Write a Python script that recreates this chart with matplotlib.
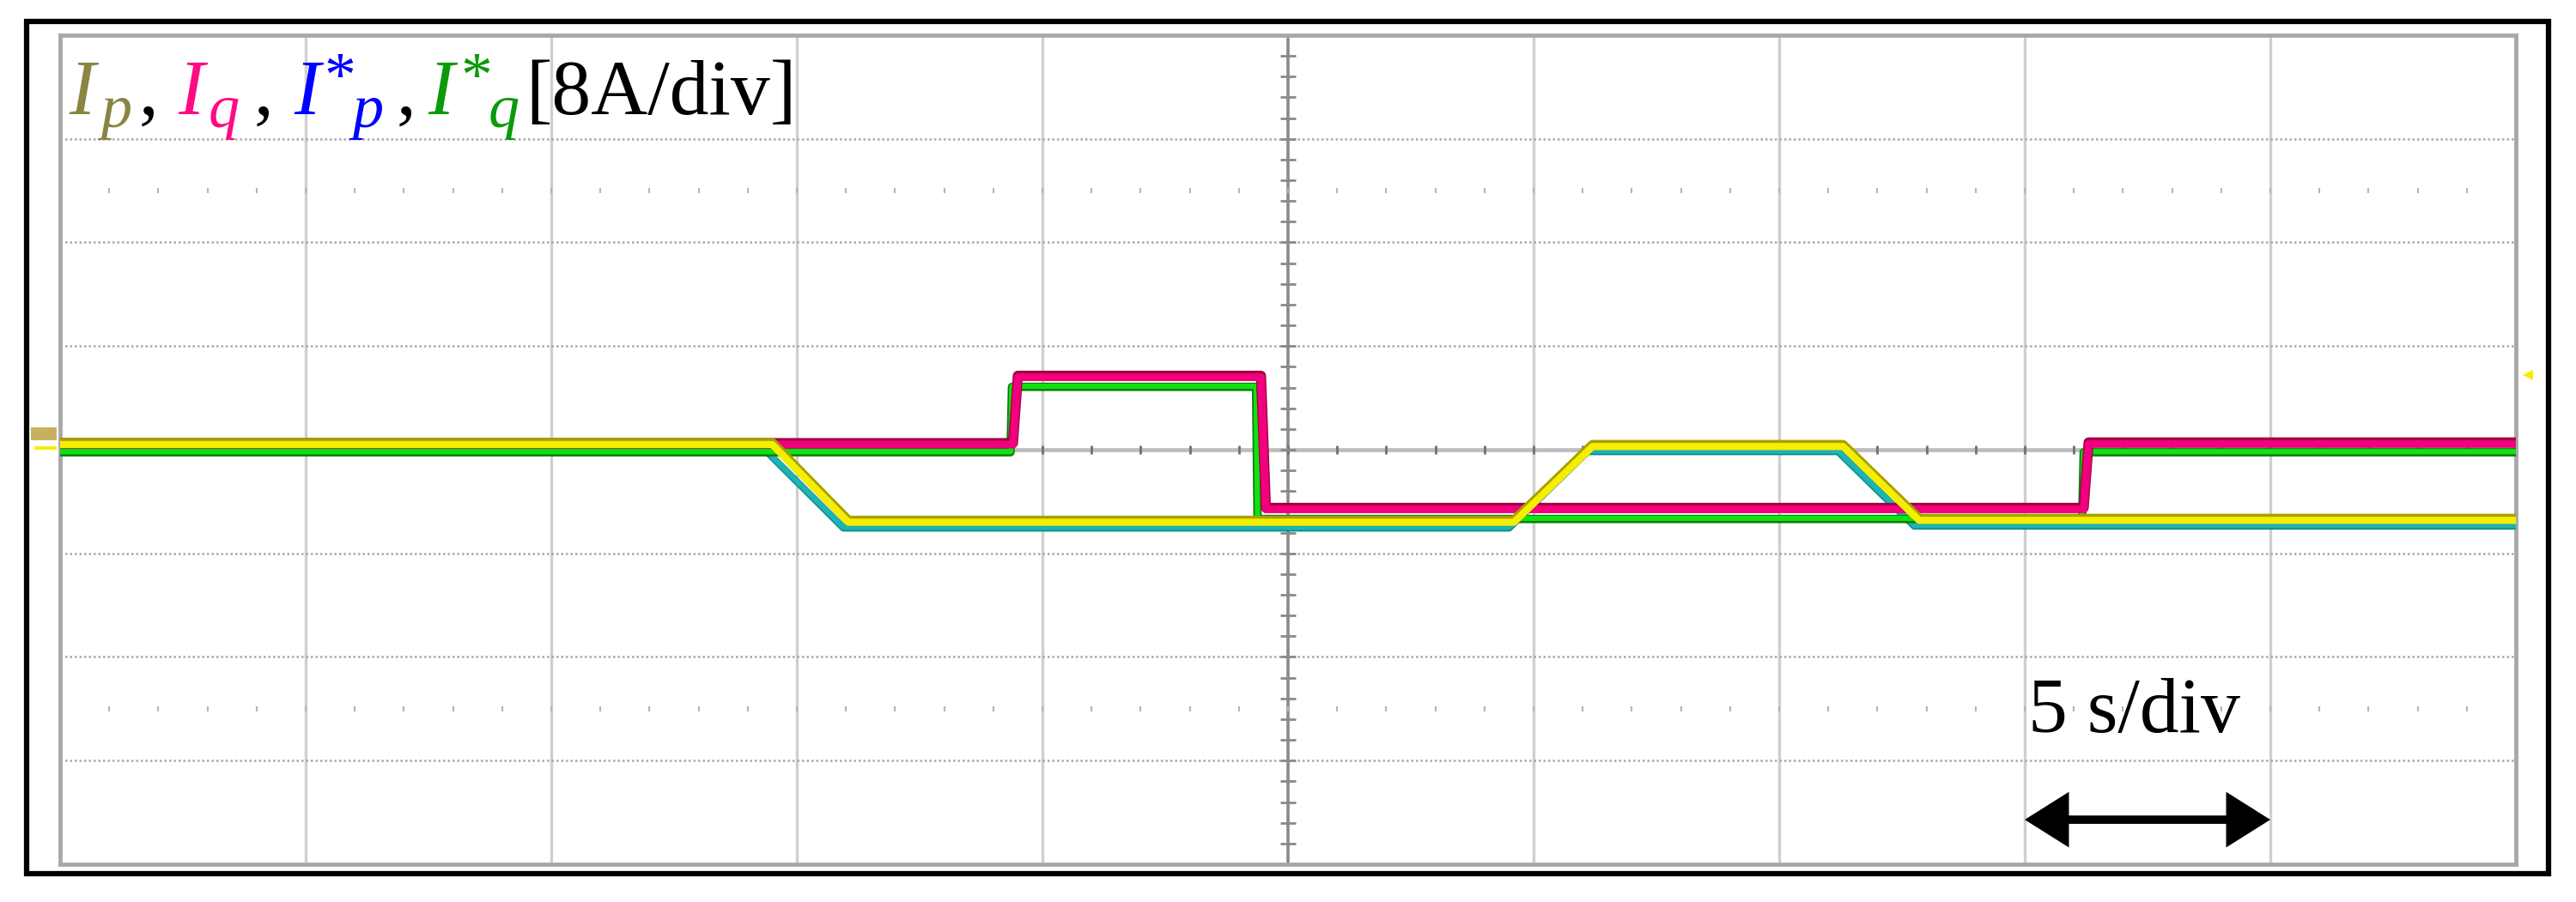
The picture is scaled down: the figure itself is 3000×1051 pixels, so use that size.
import numpy as np
import matplotlib
matplotlib.use('Agg')
import matplotlib.pyplot as plt
import matplotlib.patheffects as pe
from matplotlib.patches import Rectangle, Polygon

W, H, DPI = 3000, 1051, 100

# ---- data: time (s) at 5 s/div, current (A) at 8 A/div ----
t_ip = [0, 14.5, 16.05, 29.6, 31.2, 36.3, 37.85, 50]
ip = [0.4, 0.4, -5.6, -5.6, 0.25, 0.25, -5.45, -5.45]
t_ip_ref = [0, 14.4, 15.95, 29.5, 31.1, 36.2, 37.75, 50]
ip_ref = [-0.15, -0.15, -6.0, -6.0, -0.1, -0.1, -5.85, -5.85]
t_iq = [0, 19.4, 19.5, 24.45, 24.55, 41.2, 41.3, 50]
iq = [0.4, 0.4, 5.6, 5.6, -4.6, -4.6, 0.45, 0.45]
t_iq_ref = [0, 19.35, 19.38, 24.35, 24.38, 41.17, 41.2, 50]
iq_ref = [-0.15, -0.15, 4.9, 4.9, -5.3, -5.3, -0.15, -0.15]

x_div, y_div = 5, 8          # s/div, A/div
n_xdiv, n_ydiv = 10, 8
scale_label = "5 s/div"
arrow_span = [40, 45]

plt.rcParams['font.family'] = ['Liberation Serif', 'DejaVu Serif']

fig = plt.figure(figsize=(W / DPI, H / DPI), dpi=DPI, facecolor='white')
gx0, gx1, gy0, gy1 = 70, 2930, 41, 1007
ax = fig.add_axes([gx0 / W, 1 - gy1 / H, (gx1 - gx0) / W, (gy1 - gy0) / H])
xmax = x_div * n_xdiv
ymax = y_div * n_ydiv / 2
ax.set_xlim(0, xmax)
ax.set_ylim(-ymax, ymax)
ax.set_xticks([]); ax.set_yticks([])
for s in ax.spines.values():
    s.set_color('#a8a8a8'); s.set_linewidth(3.5)

# grid
for k in range(1, n_xdiv):
    xv = k * x_div
    if k == n_xdiv // 2:
        ax.axvline(xv, color='#8a8a8a', lw=2.6, zorder=1)
    else:
        ax.axvline(xv, color='#cfcfcf', lw=2.4, zorder=1)
for k in range(1, n_ydiv):
    yv = -ymax + k * y_div
    if k == n_ydiv // 2:
        ax.axhline(yv, color='#bdbdbd', lw=3.4, zorder=1)
    else:
        ax.axhline(yv, color='#a8a8a8', lw=1.8, ls=(0, (1, 1.2)), zorder=1)

# center-line minor ticks
mx = np.arange(0, xmax + 0.01, x_div / 5)
ax.vlines(mx, -0.3, 0.3, color='#707070', lw=2.0, zorder=1)
my = np.arange(-ymax, ymax + 0.01, y_div / 5)
ax.hlines(my, xmax / 2 - 0.15, xmax / 2 + 0.15, color='#8a8a8a', lw=2.0, zorder=1)
# marker rows at +-2.5 div
for yr in (2.5 * y_div, -2.5 * y_div):
    ax.vlines(mx, yr - 0.2, yr + 0.2, color='#b5b5b5', lw=1.5, zorder=1)

# traces
def trace(t, v, core, edge, lw, elw, off, z):
    ax.plot(t, v, color=core, lw=lw, solid_joinstyle='round', zorder=z,
            path_effects=[pe.Stroke(linewidth=elw, foreground=edge, offset=(0, off)),
                          pe.Normal()])

trace(t_ip_ref, ip_ref, '#1fb3b3', '#0a8c8c', 4.5, 6, -0.5, 3)
trace(t_iq_ref, iq_ref, '#12e012', '#0a7a0a', 4.5, 7, -0.5, 4)
trace(t_iq, iq, '#f0007e', '#a3003f', 6.5, 8.5, 1.2, 5)
trace(t_ip, ip, '#f6ee00', '#a8a000', 6.0, 8.0, 1.5, 6)

# time-scale arrow and label
ya = -3.57 * y_div
ann = ax.annotate('', xy=(arrow_span[1], ya), xytext=(arrow_span[0], ya),
                  arrowprops=dict(arrowstyle='<|-|>,head_length=1.35,head_width=0.85',
                                  mutation_scale=20, lw=7, color='black',
                                  shrinkA=0, shrinkB=0), zorder=7)
ann.arrow_patch.set_joinstyle('miter')
ann.arrow_patch.set_capstyle('butt')
fig.text(2362 / W, 1 - 853 / H, scale_label, fontsize=66, color='black',
         ha='left', va='baseline', family='Liberation Serif')

# legend-like title: (x px, baseline px, text, color, size, style)
pieces = [
    (80, 133, 'I', '#8b8442', 66, 'italic'),
    (117, 148, 'p', '#8b8442', 52, 'italic'),
    (162, 133, ',', 'black', 66, 'normal'),
    (207, 133, 'I', '#ff0a84', 66, 'italic'),
    (243, 148, 'q', '#ff0a84', 52, 'italic'),
    (296, 133, ',', 'black', 66, 'normal'),
    (342, 133, 'I', '#0000ff', 66, 'italic'),
    (377, 112, '*', '#0000ff', 53, 'normal'),
    (410, 148, 'p', '#0000ff', 52, 'italic'),
    (462, 133, ',', 'black', 66, 'normal'),
    (498, 133, 'I', '#0a9a0a', 66, 'italic'),
    (536, 112, '*', '#0a9a0a', 53, 'normal'),
    (569, 148, 'q', '#0a9a0a', 52, 'italic'),
    (612, 133, '[8A/div]', 'black', 66, 'normal'),
]
for px, py, s, c, size, style in pieces:
    fig.text(px / W, 1 - py / H, s, fontsize=size, color=c, style=style,
             ha='left', va='baseline', family='Liberation Serif')

# outer frame
fig.patches.append(Rectangle((31 / W, 1 - 1018 / H), (2968 - 31) / W, (1018 - 25) / H,
                             transform=fig.transFigure, fill=False, ec='black', lw=4.5))
# channel markers
fig.patches.append(Rectangle((36 / W, 1 - 513 / H), 30 / W, 15 / H, transform=fig.transFigure,
                             fc='#c8b060', ec='none'))
fig.patches.append(Rectangle((40 / W, 1 - 524 / H), 26 / W, 4 / H, transform=fig.transFigure,
                             fc='#f6ee00', ec='none'))
fig.patches.append(Polygon([(2938 / W, 1 - 437 / H), (2950 / W, 1 - 431 / H), (2950 / W, 1 - 443 / H)],
                           transform=fig.transFigure, fc='#f6ee00', ec='none'))

fig.savefig('out.png', dpi=DPI, facecolor='white')
